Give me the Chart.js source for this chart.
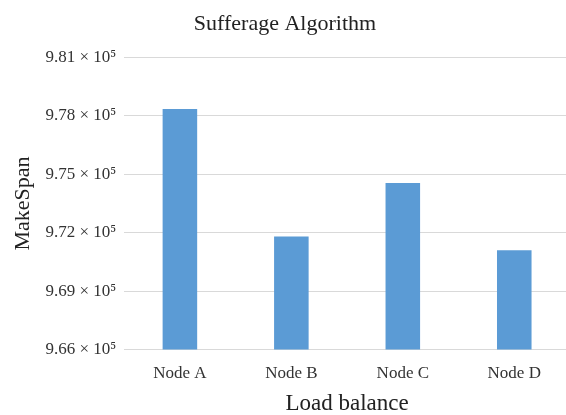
<!DOCTYPE html>
<html lang="en">
<head>
    <meta charset="UTF-8">
    <title>Sufferage Algorithm</title>
    <script src="https://cdn.jsdelivr.net/npm/chart.js"></script>
    <style>
        html, body { margin: 0; padding: 0; background: #fff; overflow: hidden; }
        /* the original plot runs slightly past the right edge of the picture */
        #wrap { width: 570px; height: 415px; }
    </style>
</head>
<body>
    <div id="wrap"><canvas id="chart"></canvas></div>
    <script>
        // values
        const nodes = ['Node A', 'Node B', 'Node C', 'Node D'];
        const makespan = [978350, 971800, 974550, 971100];
        const yMin = 966000;
        const yMax = 981000;
        const yStep = 3000;

        const serif = "'Liberation Serif', 'DejaVu Serif', serif";

        new Chart(document.getElementById('chart').getContext('2d'), {
            type: 'bar',
            data: {
                labels: nodes,
                datasets: [{
                    label: 'MakeSpan',
                    data: makespan,
                    backgroundColor: '#5b9bd5',
                    barPercentage: 0.62,
                    categoryPercentage: 0.5
                }]
            },
            options: {
                responsive: true,
                maintainAspectRatio: false,
                animation: false,
                layout: { padding: { left: 0, right: 0, top: 4, bottom: 0 } },
                plugins: {
                    legend: { display: false },
                    tooltip: { enabled: false },
                    title: {
                        display: true,
                        text: 'Sufferage Algorithm',
                        color: '#222',
                        font: { family: serif, size: 22, weight: 'normal' },
                        padding: { top: 7, bottom: 20 }
                    }
                },
                scales: {
                    x: {
                        // tickLength only pushes the labels down; no marks are drawn
                        grid: { display: false, tickLength: 14 },
                        border: { display: false },
                        ticks: { color: '#333', font: { family: serif, size: 17 }, padding: 0 },
                        title: {
                            display: true,
                            text: 'Load balance',
                            color: '#222',
                            font: { family: serif, size: 23, lineHeight: 1 },
                            padding: { top: 8, bottom: 0 }
                        }
                    },
                    y: {
                        min: yMin,
                        max: yMax,
                        grid: { color: '#d9d9d9', drawTicks: false },
                        border: { display: false },
                        ticks: {
                            stepSize: yStep,
                            color: '#333',
                            padding: 8,
                            font: { family: serif, size: 17 },
                            callback: v => (v / 1e5).toFixed(2) + ' \u00d7 10\u2075'
                        },
                        title: {
                            display: true,
                            text: 'MakeSpan',
                            color: '#222',
                            font: { family: serif, size: 22 },
                            padding: { top: 10, bottom: 1 }
                        }
                    }
                }
            }
        });
    </script>
</body>
</html>
